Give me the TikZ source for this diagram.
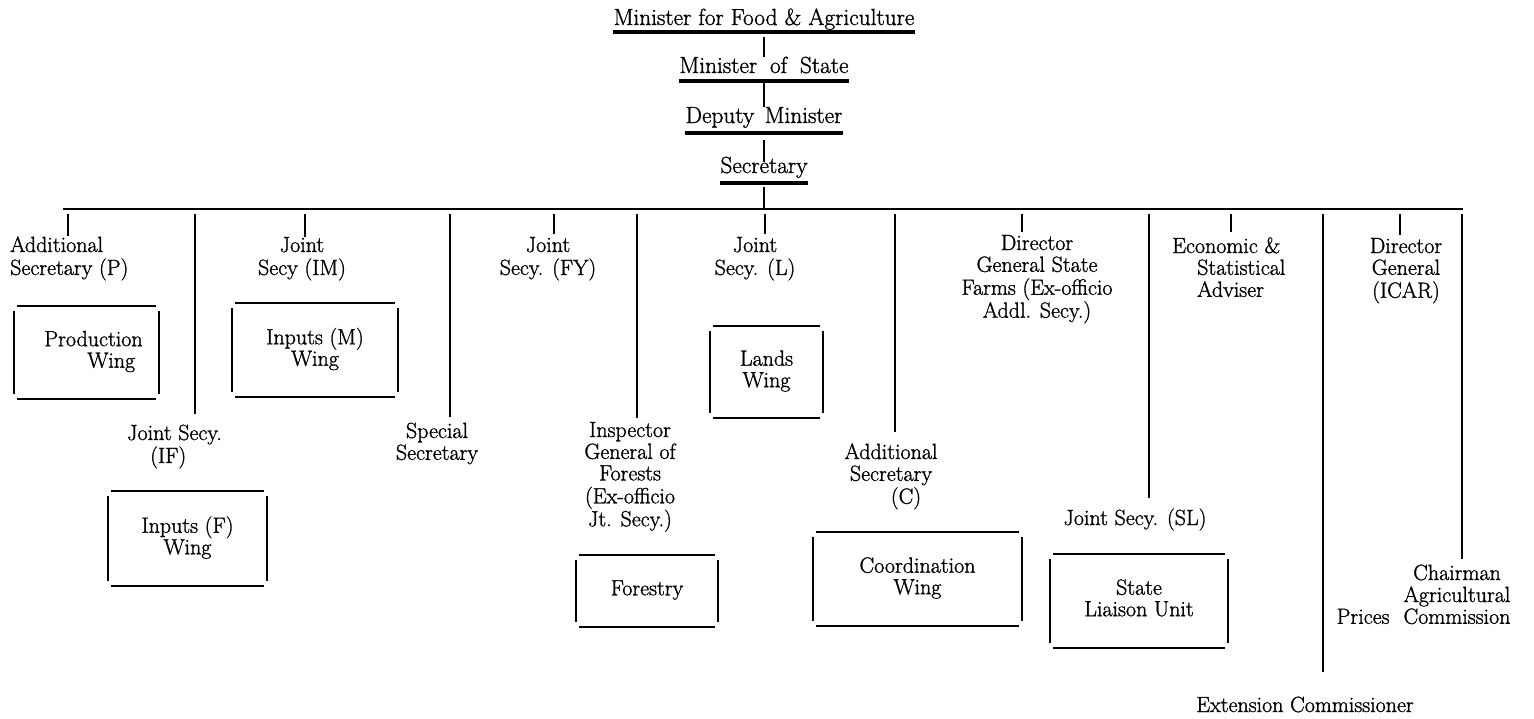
\documentclass[tikz,border=0pt]{standalone}
\usepackage{fontspec}
\setmainfont{Latin Modern Roman}[FakeBold=1.2]
\usetikzlibrary{calc}
\newcommand\mylblfont{\fontsize{22}{21.5}\selectfont}
\newcommand\mytitlefont{\fontsize{23.3}{24}\selectfont}
\newcommand\cstack[1]{\begin{tabular}[t]{@{}c@{}}#1\end{tabular}}
\newcommand\lstack[1]{\begin{tabular}[t]{@{}l@{}}#1\end{tabular}}
\newcommand\gapbox[1]{%
  \draw[side] ([xshift=3pt]#1.north west) -- ([xshift=-3pt]#1.north east);
  \draw[side] ([xshift=3pt]#1.south west) -- ([xshift=-3pt]#1.south east);
  \draw[side] ([yshift=-5pt]#1.north west) -- ([yshift=5pt]#1.south west);
  \draw[side] ([yshift=-5pt]#1.north east) -- ([yshift=5pt]#1.south east);}
\begin{document}
\begin{tikzpicture}[x=1pt,y=-1pt,
  conn/.style={line width=1.5pt},
  busline/.style={line width=2.4pt},
  uline/.style={line width=3.6pt},
  side/.style={line width=1.8pt},
  lbl/.style={inner sep=0pt, anchor=base, font=\mylblfont},
  lblw/.style={lbl, anchor=base west},
  title/.style={inner sep=0pt, anchor=base, font=\mytitlefont},
  wing/.style={inner sep=0pt, font=\mylblfont}]
\fill[white] (0,0) rectangle (1534,718);
\useasboundingbox (0,0) rectangle (1534,718);

% ---- top chain
\node[title] (m1) at (764,25) {Minister for Food \& Agriculture};
\node[title] (m2) at (764,73) {Minister\hspace{0.55em}of\hspace{0.55em}State};
\node[title] (m3) at (764,123) {Deputy\hspace{0.45em}Minister};
\node[title] (m4) at (764,173) {Secretary};
\foreach \n/\d in {m1/7,m2/8,m3/10,m4/10}
  {\draw[uline] ([yshift=-\d pt]\n.base west) -- ([yshift=-\d pt]\n.base east);}
\draw[conn] ([yshift=-12pt]m1.base) -- ([yshift=16pt]m2.base);
\draw[conn] ([yshift=-10pt]m2.base) -- ([yshift=16pt]m3.base);
\draw[conn] ([yshift=-17pt]m3.base) -- ([yshift=11pt]m4.base);

% ---- bus
\coordinate (busL) at (63,209);
\coordinate (busR) at (1463,209);
\draw[busline] (busL) -- (busR);
\draw[conn] ([yshift=-14pt]m4.base) -- (m4.base |- busL);

% ---- labels
\node[lblw] (aps) at (10,252) {\lstack{Additional\\Secretary (P)}};
\node[lblw] (jsif) at (127,440) {\lstack{Joint Secy.\\\hspace*{23pt}(IF)}};
\node[lbl] (jsim) at (302,252) {\cstack{Joint\\Secy (IM)}};
\node[lbl] (spec) at (437,438) {\cstack{Special\\Secretary}};
\node[lbl] (jsfy) at (548,252) {\cstack{Joint\\Secy. (FY)}};
\node[lbl] (igf) at (630,437) {\cstack{Inspector\\General of\\Forests\\(Ex-officio\\Jt. Secy.)}};
\node[lbl] (jsl) at (755,252) {\cstack{Joint\\Secy. (L)}};
\node[lbl] (asc) at (891,459) {\cstack{Additional\\Secretary\\\hspace*{30pt}(C)}};
\node[lbl] (dgsf) at (1037,250) {\cstack{Director\\General State\\Farms (Ex-officio\\Addl. Secy.)}};
\node[lbl] (jssl) at (1135,525) {Joint Secy. (SL)};
\node[lblw] (econ) at (1172,253) {\lstack{Economic \&\\\hspace*{25pt}Statistical\\\hspace*{25pt}Adviser}};
\node[lbl] (ext) at (1305,712) {Extension Commissioner};
\node[lbl] (icar) at (1406,253) {\cstack{Director\\General\\(ICAR)}};
\node[lbl] (chair) at (1457,580) {\cstack{Chairman\\Agricultural\\\llap{Prices\hspace{14pt}}Commission}};

% ---- drops from the bus
\coordinate (d1) at (68,214);
\coordinate (d2) at (195,214);
\coordinate (d3) at (305,214);
\coordinate (d4) at (450,214);
\coordinate (d5) at (554,214);
\coordinate (d6) at (637,214);
\coordinate (d7) at (765,214);
\coordinate (d8) at (895,214);
\coordinate (d9) at (1022,214);
\coordinate (d10) at (1149,214);
\coordinate (d11) at (1231,214);
\coordinate (d12) at (1323,214);
\coordinate (d13) at (1400,214);
\coordinate (d14) at (1462,214);
\draw[conn] (d1) -- (d1 |- aps.north);
\draw[conn] (d2) -- ($(d2 |- jsif.north)+(0,-10)$);
\draw[conn] (d3) -- (d3 |- jsim.north);
\draw[conn] (d4) -- ($(d4 |- spec.north)+(0,-5)$);
\draw[conn] (d5) -- ($(d5 |- jsfy.north)+(0,-3)$);
\draw[conn] (d6) -- ($(d6 |- igf.north)+(0,-4)$);
\draw[conn] (d7) -- ($(d7 |- jsl.north)+(0,-3)$);
\draw[conn] (d8) -- ($(d8 |- asc.north)+(0,-11)$);
\draw[conn] (d9) -- ($(d9 |- dgsf.north)+(0,-3)$);
\draw[conn] (d10) -- ($(d10 |- jssl.north)+(0,-10)$);
\draw[conn] (d11) -- ($(d11 |- econ.north)+(0,-5)$);
\draw[conn] (d12) -- ($(d12 |- ext.north)+(0,-24)$);
\draw[conn] (d13) -- ($(d13 |- icar.north)+(0,-3)$);
\draw[conn] (d14) -- ($(d14 |- chair.north)+(0,-5)$);

% ---- wing boxes
\node[wing, minimum width=145pt, minimum height=93pt] (prodw) at (86.5,352.5)
  {\lstack{\hspace*{14pt}Production\\\hspace*{57pt}Wing}};
\node[wing, minimum width=166pt, minimum height=94pt] (inmw) at (315,350) {\cstack{Inputs (M)\\Wing}};
\node[wing, minimum width=159pt, minimum height=95pt] (infw) at (187.5,538.5) {\cstack{Inputs (F)\\Wing}};
\node[wing, minimum width=113pt, minimum height=92pt] (landw) at (766.5,372) {\cstack{Lands\\Wing}};
\node[wing, minimum width=142pt, minimum height=72pt] (forw) at (647,591) {\cstack{Forestry}};
\node[wing, minimum width=209pt, minimum height=94pt] (coordw) at (917.5,579) {\cstack{Coordination\\Wing}};
\node[wing, minimum width=178pt, minimum height=94pt] (slu) at (1139,601) {\cstack{State\\Liaison Unit}};
\foreach \b in {prodw,inmw,infw,landw,forw,coordw,slu} {\gapbox{\b}}
\end{tikzpicture}
\end{document}
